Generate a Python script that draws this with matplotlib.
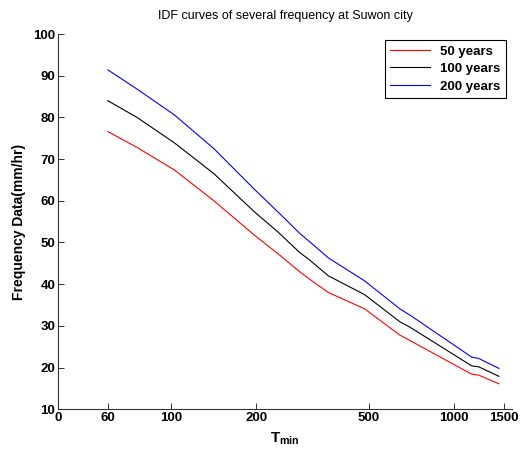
import matplotlib
matplotlib.use("Agg")
import matplotlib.pyplot as plt

plt.rcParams["font.family"] = ["Liberation Sans", "DejaVu Sans"]
plt.rcParams["mathtext.fontset"] = "custom"
plt.rcParams["mathtext.bf"] = "Liberation Sans:bold"
plt.rcParams["mathtext.rm"] = "Liberation Sans"

# duration (min) and intensity (mm/hr)
duration = [60, 76, 103, 142, 197, 240, 285, 309, 360, 483, 643, 698, 1154, 1220, 1440]
freq_50 = [76.6, 72.8, 67.4, 60.0, 51.8, 47.2, 43.0, 41.2, 38.0, 34.1, 27.8, 26.5, 18.4, 18.2, 16.1]
freq_100 = [84.0, 80.0, 73.9, 66.5, 57.4, 52.4, 47.6, 45.8, 42.0, 37.5, 31.0, 29.7, 20.4, 20.2, 17.9]
freq_200 = [91.4, 86.8, 80.6, 72.5, 62.8, 57.2, 52.2, 50.2, 46.3, 40.8, 34.1, 32.6, 22.5, 22.2, 19.8]

xtick_pos = [40, 60, 100, 200, 500, 1000, 1500]
xtick_labels = ["0", "60", "100", "200", "500", "1000", "1500"]
yticks = list(range(10, 101, 10))

fig = plt.figure(figsize=(5.21, 4.54), dpi=100)
ax = fig.add_axes([0.1113, 0.0985, 0.8714, 0.8266])

ax.plot(duration, freq_50, color="red", lw=0.8, label="50 years")
ax.plot(duration, freq_100, color="black", lw=0.8, label="100 years")
ax.plot(duration, freq_200, color="blue", lw=0.8, label="200 years")

ax.set_xscale("log")
ax.set_xlim(40, 1600)
ax.set_ylim(10, 100)
ax.set_xticks(xtick_pos)
ax.set_xticklabels(xtick_labels)
ax.minorticks_off()
ax.set_yticks(yticks)

for lbl in ax.get_xticklabels() + ax.get_yticklabels():
    lbl.set_fontweight("bold")
    lbl.set_fontsize(9.5)

ax.tick_params(direction="in", length=4, width=0.7, color="#333333", pad=2)
for side in ("top", "right"):
    ax.spines[side].set_visible(False)
for side in ("left", "bottom"):
    ax.spines[side].set_color("#333333")
    ax.spines[side].set_linewidth(0.8)

ax.set_xlabel(r"$\mathbf{T_{min}}$", fontsize=11, labelpad=5)
ax.set_ylabel("Frequency Data(mm/hr)", fontsize=10, fontweight="bold", labelpad=5)
ax.set_title("IDF curves of several frequency at Suwon city", fontsize=9, pad=11)

leg = ax.legend(loc="upper right", bbox_to_anchor=(0.986, 0.984), fancybox=False,
                edgecolor="black", framealpha=1, fontsize=9.5, borderaxespad=0,
                handlelength=3.0, labelspacing=0.4, borderpad=0.4)
leg.get_frame().set_linewidth(0.8)
for t in leg.get_texts():
    t.set_fontweight("bold")

fig.savefig("out.png", dpi=100)
